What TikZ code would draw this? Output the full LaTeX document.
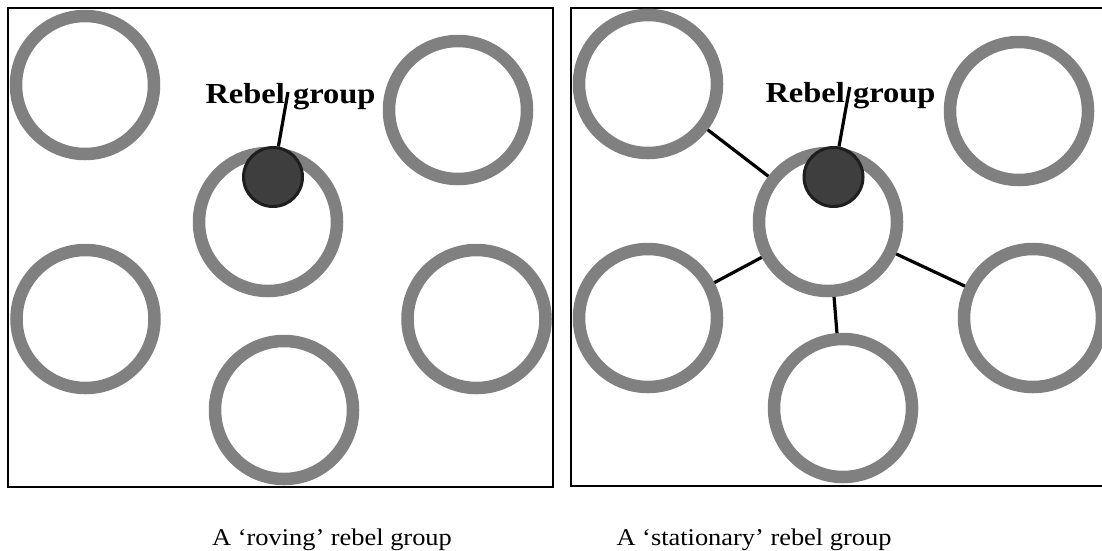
\documentclass[tikz,border=0pt]{standalone}
\usepackage{fontspec}
\setmainfont{Liberation Serif}
\definecolor{ring}{RGB}{128,128,128}
\definecolor{rebelfill}{RGB}{62,62,62}
\definecolor{rebeldraw}{RGB}{30,30,30}
\tikzset{
  area/.style={circle, draw=ring, line width=12.5pt, minimum size=138pt, inner sep=0pt, fill=none},
  rebel/.style={circle, draw=rebeldraw, fill=rebelfill, line width=3pt, minimum size=59pt, inner sep=0pt},
  link/.style={draw=black, line width=3.2pt},
  panel/.style={draw=black, line width=1.3pt},
  lbl/.style={anchor=base, inner sep=0pt, font=\fontsize{29}{29}\selectfont\bfseries},
  captiontext/.style={anchor=base, inner sep=0pt, font=\fontsize{24}{24}\selectfont}
}
\begin{document}
\begin{tikzpicture}[x=1pt,y=-1pt]
\useasboundingbox (0,0) rectangle (1102,550);
\clip (0,0) rectangle (1102,550);
% panels
\draw[panel] (8,8) rectangle (553,487);
\draw[panel] (571,8) rectangle (1116,486);
% left panel
\node[area] (la1) at (85,85) {};
\node[area] (la2) at (458,110) {};
\node[area] (lm) at (268,222) {};
\node[area] (la3) at (85.5,319) {};
\node[area] (la4) at (476.5,319) {};
\node[area] (la5) at (284,410) {};
\node[rebel] (lr) at (273,177) {};
\node[lbl] (lt) at (290.5,103) {\scalebox{1.12}[1]{Rebel group}};
\coordinate (lp) at (288,92);
\draw[link] (lr) -- (lp);
% right panel
\node[area] (ra1) at (648,84) {};
\node[area] (ra2) at (1019,111) {};
\node[area] (rm) at (828,222) {};
\node[area] (ra3) at (648,318) {};
\node[area] (ra4) at (1033,318) {};
\node[area] (ra5) at (843,408) {};
\node[rebel] (rr) at (833.5,177) {};
\node[lbl] (rt) at (850.5,102) {\scalebox{1.12}[1]{Rebel group}};
\coordinate (rp) at (849.7,87);
\draw[link] (rr) -- (rp);
\draw[link] (ra1) -- (rm);
\draw[link] (ra3) -- (rm);
\draw[link] (ra4) -- (rm);
\draw[link] (ra5) -- (rm);
% captions
\node[captiontext] (c1) at (332,545) {\scalebox{1.1}[1]{A ‘roving’ rebel group}};
\node[captiontext] (c2) at (754,545) {\scalebox{1.1}[1]{A ‘stationary’ rebel group}};
\end{tikzpicture}
\end{document}
